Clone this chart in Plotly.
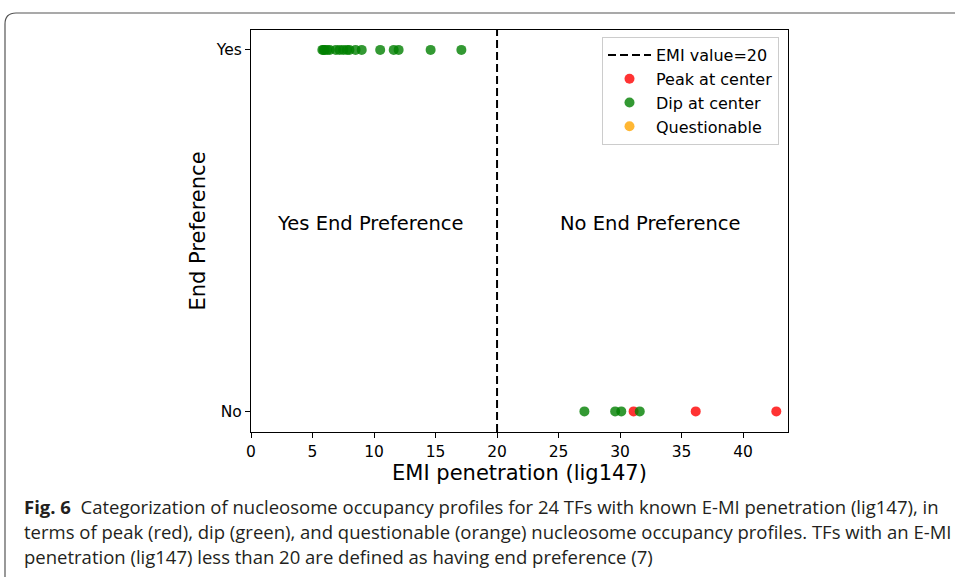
import plotly.graph_objects as go

# ---- data ----
yes_green_x = [5.8, 5.9, 6.0, 6.2, 6.4, 6.9, 7.2, 7.5, 7.8, 8.0, 8.5, 9.0, 10.5, 11.6, 12.0, 14.6, 17.1]
no_green_x = [27.1, 29.6, 30.1, 31.6]
no_red_x = [31.1, 36.15, 42.7]
questionable_x = [None]
threshold = 20
y_tick_vals = [0, 1]
y_tick_text = ["No", "Yes"]
x_tick_vals = [0, 5, 10, 15, 20, 25, 30, 35, 40]

W, H = 955, 577
L, R, T, B = 251, 788, 30, 432
y_range = [-0.057, 1.055]
x_range = [0, 43.65]

def px(x):
    return (x - L) / (R - L)

def py(y):
    return (B - y) / (B - T)

fig = go.Figure()

fig.add_trace(go.Scatter(
    x=[threshold, threshold], y=y_range, mode="lines",
    line=dict(color="black", width=2, dash="8px,4px"),
    name="EMI value=20"))
fig.add_trace(go.Scatter(
    x=no_red_x, y=[0] * len(no_red_x), mode="markers",
    marker=dict(color="red", size=10, opacity=0.8, line=dict(width=0)),
    name="Peak at center"))
fig.add_trace(go.Scatter(
    x=yes_green_x + no_green_x, y=[1] * len(yes_green_x) + [0] * len(no_green_x),
    mode="markers",
    marker=dict(color="green", size=10, opacity=0.8, line=dict(width=0)),
    name="Dip at center"))
fig.add_trace(go.Scatter(
    x=questionable_x, y=[None], mode="markers",
    marker=dict(color="orange", size=10, opacity=0.8, line=dict(width=0)),
    name="Questionable"))

fig.add_annotation(x=9.7, y=0.52, xref="x", yref="y", text="Yes End Preference",
                   showarrow=False, font=dict(family="DejaVu Sans", size=19.5, color="black"))
fig.add_annotation(x=32.5, y=0.52, xref="x", yref="y", text="No End Preference",
                   showarrow=False, font=dict(family="DejaVu Sans", size=19.5, color="black"))

cap_font = dict(family="Open Sans", size=18.5, color="#231f20")
cap_lines = [
    "<b>Fig. 6</b>  Categorization of nucleosome occupancy profiles for 24 TFs with known E-MI penetration (lig147), in",
    "terms of peak (red), dip (green), and questionable (orange) nucleosome occupancy profiles. TFs with an E-MI",
    "penetration (lig147) less than 20 are defined as having end preference (7)",
]
for i, line in enumerate(cap_lines):
    fig.add_annotation(x=px(22), y=py(506 + 25 * i), xref="paper", yref="paper",
                       xanchor="left", yanchor="middle", text=line, showarrow=False,
                       align="left", font=cap_font)

# rounded border of the figure box
r = 11
path = (f"M {px(960)},{py(13)} L {px(5 + r)},{py(13)} "
        f"Q {px(5)},{py(13)} {px(5)},{py(13 + r)} L {px(5)},{py(585)}")
fig.add_shape(type="path", path=path, xref="paper", yref="paper",
              line=dict(color="#555555", width=1.2))

fig.update_layout(
    width=W, height=H,
    margin=dict(l=L, r=W - R, t=T, b=H - B),
    paper_bgcolor="white", plot_bgcolor="white",
    showlegend=True,
    legend=dict(x=px(779), y=py(37), xanchor="right", yanchor="top",
                bgcolor="white", bordercolor="#cccccc", borderwidth=1,
                itemwidth=43,
                font=dict(family="DejaVu Sans", size=16, color="black")),
    xaxis=dict(range=x_range, tickvals=x_tick_vals, showgrid=False, zeroline=False,
               showline=True, linecolor="black", linewidth=1.2, mirror=True,
               ticks="outside", ticklen=5, tickcolor="black",
               tickfont=dict(family="DejaVu Sans", size=15.5, color="black"),
               title=dict(text="EMI penetration (lig147)", standoff=0,
                          font=dict(family="DejaVu Sans", size=21, color="black"))),
    yaxis=dict(range=y_range, tickvals=y_tick_vals, ticktext=y_tick_text,
               showgrid=False, zeroline=False,
               showline=True, linecolor="black", linewidth=1.2, mirror=True,
               ticks="outside", ticklen=5, tickcolor="black",
               tickfont=dict(family="DejaVu Sans", size=15.5, color="black"),
               title=dict(text="End Preference", standoff=4,
                          font=dict(family="DejaVu Sans", size=21, color="black"))),
)

fig.write_html("out.html", config={"displayModeBar": False},
               post_script="document.body.style.margin='0';")
